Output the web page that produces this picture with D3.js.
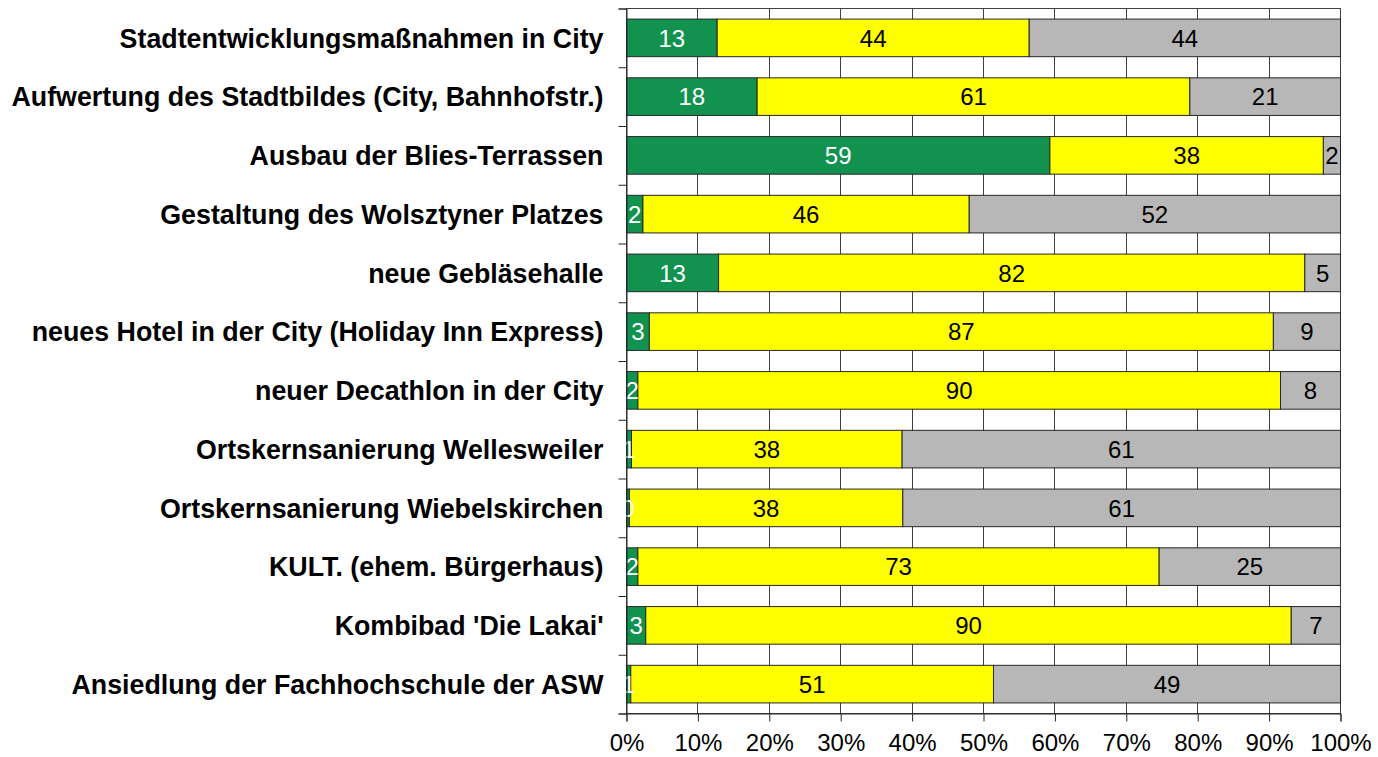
<!DOCTYPE html>
<html>
<head>
<meta charset="utf-8">
<script src="https://cdn.jsdelivr.net/npm/d3@7"></script>
<style>
  body { margin: 0; background: #fff; }
  svg { display: block; font-family: "Liberation Sans", Arial, sans-serif; }
</style>
</head>
<body>
<svg id="chart" width="1378" height="757"></svg>
<script>
// Catégories (de haut en bas)
const categories = [
  "Stadtentwicklungsmaßnahmen in City",
  "Aufwertung des Stadtbildes (City, Bahnhofstr.)",
  "Ausbau der Blies-Terrassen",
  "Gestaltung des Wolsztyner Platzes",
  "neue Gebläsehalle",
  "neues Hotel in der City (Holiday Inn Express)",
  "neuer Decathlon in der City",
  "Ortskernsanierung Wellesweiler",
  "Ortskernsanierung Wiebelskirchen",
  "KULT. (ehem. Bürgerhaus)",
  "Kombibad 'Die Lakai'",
  "Ansiedlung der Fachhochschule der ASW"
];

// Valeurs en % pour chaque série
const serieVert  = [12.7, 18.3, 59.3, 2.3, 12.9, 3.2, 1.6, 0.7, 0.4, 1.6, 2.7, 0.6];
const serieJaune = [43.7, 60.6, 38.3, 45.7, 82.1, 87.4, 90.0, 37.9, 38.3, 73.0, 90.4, 50.8];
const serieGris  = [43.6, 21.1, 2.4, 52.0, 5.0, 9.4, 8.4, 61.4, 61.3, 25.4, 6.9, 48.6];

const ticksX = [0, 0.1, 0.2, 0.3, 0.4, 0.5, 0.6, 0.7, 0.8, 0.9, 1];

const cles = ["vert", "jaune", "gris"];
const couleurs = { vert: "#11934f", jaune: "#ffff00", gris: "#b7b7b7" };
const couleursTexte = { vert: "#ffffff", jaune: "#000000", gris: "#000000" };

const donnees = categories.map(function(c, i) {
  return { cat: c, vert: serieVert[i], jaune: serieJaune[i], gris: serieGris[i] };
});

const margin = { top: 8.5, right: 37.5, bottom: 43.5, left: 626.5 };
const width = 1378 - margin.left - margin.right;
const height = 757 - margin.top - margin.bottom;

const svg = d3.select("#chart");
const g = svg.append("g").attr("transform", "translate(" + margin.left + "," + margin.top + ")");

const x = d3.scaleLinear().domain([0, 1]).range([0, width]);
const y = d3.scaleBand().domain(categories).range([0, height]).paddingInner(0.36).paddingOuter(0.18);
const yBord = d3.scaleLinear().domain([0, categories.length]).range([0, height]);

const pile = d3.stack().keys(cles).offset(d3.stackOffsetExpand)(donnees);

// Grille verticale
g.selectAll(".grille")
  .data(ticksX.slice(1, -1))
  .enter()
  .append("line")
  .attr("x1", d => Math.round(x(d)))
  .attr("x2", d => Math.round(x(d)))
  .attr("y1", 0)
  .attr("y2", height)
  .attr("stroke", "#404040")
  .attr("stroke-width", 1);

// Cadre de la zone de tracé
g.append("rect")
  .attr("x", 0).attr("y", 0)
  .attr("width", width).attr("height", height)
  .attr("fill", "none")
  .attr("stroke", "#404040")
  .attr("stroke-width", 1);

// Barres empilées
const groupes = g.selectAll(".serie")
  .data(pile)
  .enter()
  .append("g")
  .attr("fill", d => couleurs[d.key]);

groupes.selectAll("rect")
  .data(d => d)
  .enter()
  .append("rect")
  .attr("x", d => x(d[0]))
  .attr("y", d => y(d.data.cat))
  .attr("width", d => x(d[1]) - x(d[0]))
  .attr("height", y.bandwidth())
  .attr("stroke", "#262626")
  .attr("stroke-width", 1);

// Étiquettes des valeurs
pile.forEach(function(s) {
  g.selectAll(".lab-" + s.key)
    .data(s)
    .enter()
    .append("text")
    .attr("x", d => x((d[0] + d[1]) / 2))
    .attr("y", d => y(d.data.cat) + y.bandwidth() / 2)
    .attr("dy", "0.36em")
    .attr("text-anchor", "middle")
    .attr("font-size", "24px")
    .attr("fill", couleursTexte[s.key])
    .text(d => Math.round(d.data[s.key]));
});

// Axe vertical : graduations aux limites des catégories
g.append("g")
  .call(d3.axisLeft(yBord).tickValues(d3.range(categories.length + 1)).tickSize(8).tickFormat(""))
  .call(a => a.select(".domain").attr("stroke", "#262626"))
  .call(a => a.selectAll(".tick line").attr("stroke", "#262626"));

// Libellés des catégories
g.selectAll(".cat")
  .data(categories)
  .enter()
  .append("text")
  .attr("x", -23)
  .attr("y", d => y(d) + y.bandwidth() / 2)
  .attr("dy", "0.36em")
  .attr("text-anchor", "end")
  .attr("font-size", "26.8px")
  .attr("font-weight", "bold")
  .attr("fill", "#000")
  .text(d => d);

// Axe horizontal
g.append("g")
  .attr("transform", "translate(0," + height + ")")
  .call(d3.axisBottom(x).tickValues(ticksX).tickSize(8).tickPadding(12).tickFormat(d3.format(".0%")))
  .call(a => a.select(".domain").attr("stroke", "#262626"))
  .call(a => a.selectAll(".tick line").attr("stroke", "#262626"))
  .call(a => a.selectAll(".tick text").attr("font-size", "24px").attr("fill", "#000").attr("font-family", "Liberation Sans, Arial, sans-serif"));
</script>
</body>
</html>
